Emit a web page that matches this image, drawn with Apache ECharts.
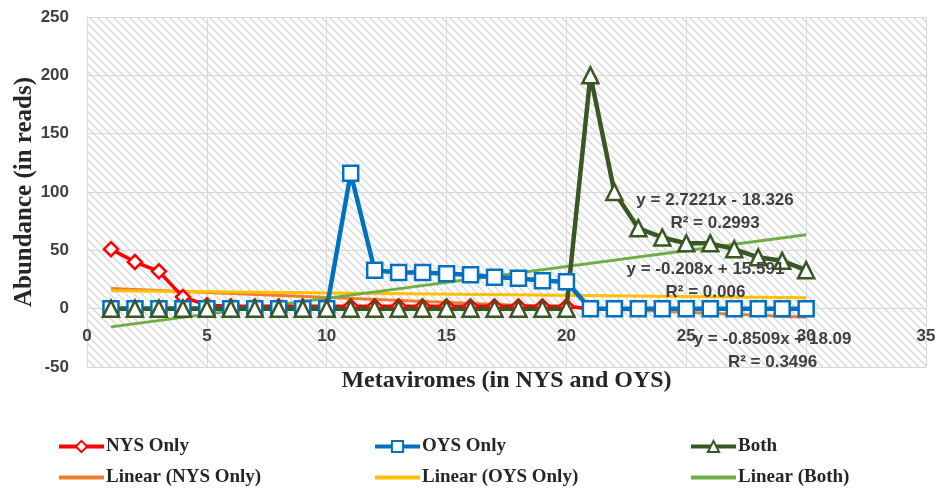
<!DOCTYPE html>
<html>
<head>
<meta charset="utf-8">
<script src="https://cdn.jsdelivr.net/npm/echarts@6/dist/echarts.min.js"></script>
<style>
  html, body { margin: 0; padding: 0; background: #fff; }
  #chart { width: 936px; height: 488px; }
</style>
</head>
<body>
<div id="chart"></div>
<script>
// metavirome index 1..30
var xs = [1,2,3,4,5,6,7,8,9,10,11,12,13,14,15,16,17,18,19,20,21,22,23,24,25,26,27,28,29,30];
var nysOnly = [51,40,32,10,3,2,2,2,2,2,2,2,2,2,2,2,2,2,2,2,0,0,0,0,0,0,0,0,0,0];
var oysOnly = [0,0,0,0,0,0,0,0,0,0,116,33,31,31,30,29,27,26,24,23,0,0,0,0,0,0,0,0,0,0];
var both = [0,0,0,0,0,0,0,0,0,0,0,0,0,0,0,0,0,0,0,0,200,100,69,61,56,56,51,44,41,33];

// trend line end points (x = 1 and x = 30)
var trendX = [1, 30];
var trendNys = [17.2, -7.4];
var trendOys = [15.4, 9.35];
var trendBoth = [-15.6, 63.3];

var trendLabels = [
  {name: 'Linear (NYS Only)', text: 'y = -0.8509x + 18.09\nR² = 0.3496', at: [28.6, -36]},
  {name: 'Linear (OYS Only)', text: 'y = -0.208x + 15.591\nR² = 0.006', at: [25.8, 24]},
  {name: 'Linear (Both)', text: 'y = 2.7221x - 18.326\nR² = 0.2993', at: [26.2, 83]}
];

var legendNames = ['NYS Only','OYS Only','Both','Linear (NYS Only)','Linear (OYS Only)','Linear (Both)'];

var yMin = -50, yMax = 250;

function pairs(x, y) {
  var out = [];
  for (var i = 0; i < x.length; i++) out.push([x[i], y[i]]);
  return out;
}

// hatched plot background
var hatch = document.createElement('canvas');
hatch.width = 8; hatch.height = 8;
var hc = hatch.getContext('2d');
hc.fillStyle = '#ffffff';
hc.fillRect(0, 0, 8, 8);
hc.strokeStyle = '#d8d8d8';
hc.lineWidth = 1.4;
hc.beginPath();
hc.moveTo(-2, -2); hc.lineTo(10, 10);
hc.moveTo(-2, 6); hc.lineTo(2, 10);
hc.moveTo(6, -2); hc.lineTo(10, 2);
hc.stroke();

var chart = echarts.init(document.getElementById('chart'));

var gridTop = 17, gridBottom = 121;
var gridH = 488 - gridTop - gridBottom;
// x axis sits on y = 0 like the Excel chart
var xAxisOffset = -gridH * (0 - yMin) / (yMax - yMin);

var sansBold = {fontFamily: 'Liberation Sans', fontWeight: 'bold', color: '#404040', fontSize: 17};

function trendSeries(name, ys, color, lbl) {
  return {
    name: name,
    type: 'line',
    data: pairs(trendX, ys),
    symbol: 'none',
    lineStyle: {color: color, width: 3},
    itemStyle: {color: color, opacity: 0},
    z: 2,
    silent: true,
    markPoint: {
      symbol: 'rect',
      symbolSize: 1,
      itemStyle: {color: 'rgba(0,0,0,0)'},
      label: {
        show: true,
        position: 'inside',
        formatter: lbl.text,
        fontFamily: 'Liberation Sans',
        fontWeight: 'bold',
        fontSize: 17,
        lineHeight: 23,
        color: '#404040',
        align: 'center'
      },
      data: [{coord: lbl.at}]
    }
  };
}

function dataSeries(name, ys, color, symbol, size, width) {
  return {
    name: name,
    type: 'line',
    data: pairs(xs, ys),
    symbol: symbol,
    symbolSize: size,
    showAllSymbol: true,
    lineStyle: {color: color, width: width},
    itemStyle: {color: '#ffffff', borderColor: color, borderWidth: 2.5},
    z: 3
  };
}

var cols = [57, 373, 689];
var rows = [437, 468];
var legends = legendNames.map(function (n, i) {
  return {
    data: [n],
    left: cols[i % 3],
    top: rows[Math.floor(i / 3)],
    padding: 0,
    itemWidth: 45,
    itemHeight: 14,
    selectedMode: false,
    lineStyle: {width: 4},
    textStyle: {fontFamily: 'Liberation Serif', fontWeight: 'bold', fontSize: 19, color: '#262626', padding: [0, 0, 0, -3]}
  };
});

var option = {
  backgroundColor: '#ffffff',
  animation: false,
  grid: {
    left: 87, right: 10, top: gridTop, bottom: gridBottom,
    outerBoundsMode: 'none',
    show: true,
    backgroundColor: {image: hatch, repeat: 'repeat'},
    borderWidth: 0
  },
  legend: legends,
  xAxis: {
    type: 'value',
    min: 0, max: 35, interval: 5,
    offset: xAxisOffset,
    axisLine: {show: false, onZero: false},
    axisTick: {show: false},
    splitLine: {show: true, lineStyle: {color: '#d9d9d9', width: 1}},
    axisLabel: Object.assign({margin: 19}, sansBold),
    name: 'Metaviromes (in NYS and OYS)',
    nameLocation: 'middle',
    nameGap: 60,
    nameMoveOverlap: false,
    nameTextStyle: {fontFamily: 'Liberation Serif', fontWeight: 'bold', fontSize: 24, color: '#262626'}
  },
  yAxis: {
    type: 'value',
    min: yMin, max: yMax, interval: 50,
    axisLine: {show: true, onZero: false, lineStyle: {color: '#d9d9d9', width: 1}},
    axisTick: {show: false},
    splitLine: {show: true, lineStyle: {color: '#d9d9d9', width: 1}},
    axisLabel: Object.assign({margin: 18}, sansBold),
    name: 'Abundance (in reads)',
    nameLocation: 'middle',
    nameGap: 50,
    nameMoveOverlap: false,
    nameTextStyle: {fontFamily: 'Liberation Serif', fontWeight: 'bold', fontSize: 25, color: '#262626'}
  },
  series: [
    trendSeries('Linear (NYS Only)', trendNys, '#ED7D31', trendLabels[0]),
    trendSeries('Linear (OYS Only)', trendOys, '#FFC000', trendLabels[1]),
    trendSeries('Linear (Both)', trendBoth, '#70AD47', trendLabels[2]),
    dataSeries('NYS Only', nysOnly, '#FF0000', 'diamond', 14, 3.5),
    dataSeries('OYS Only', oysOnly, '#0070C0', 'rect', 15, 4.5),
    dataSeries('Both', both, '#385723', 'triangle', 16, 4.5)
  ]
};

chart.setOption(option);
</script>
</body>
</html>
